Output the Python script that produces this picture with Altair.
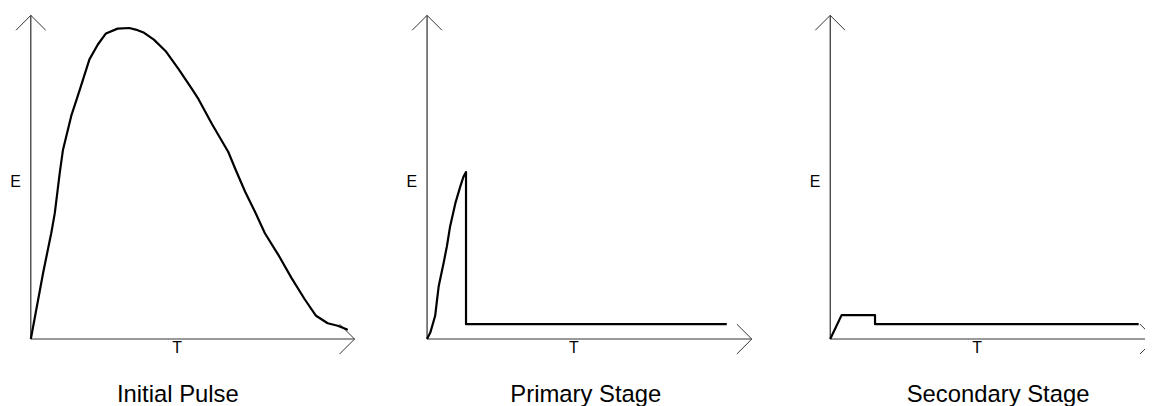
import altair as alt
import pandas as pd

# ---- data (T in % of axis length, E in % of axis height) ----
panel_titles = ["Initial Pulse", "Primary Stage", "Secondary Stage"]
title_centers = [45.4, 48.9, 51.7]   # where each caption sits along T

pulse_t = [0.0, 3.8, 6.3, 7.4, 8.9, 9.9, 11.5, 12.5, 14.0, 15.5, 18.1, 20.7, 23.2,
           26.8, 30.4, 32.4, 35.0, 38.0, 41.6, 45.7, 49.8, 51.8, 55.9, 61.0, 63.1,
           66.2, 69.2, 72.3, 76.4, 80.5, 84.6, 88.1, 91.7, 94.8, 97.9]
pulse_e = [0.0, 20.5, 32.7, 38.9, 51.1, 58.3, 64.9, 69.0, 73.6, 78.2, 86.4, 91.0, 94.4,
           95.9, 96.1, 95.6, 94.6, 92.5, 89.0, 83.3, 77.2, 74.1, 66.5, 57.8, 52.7,
           45.5, 39.4, 32.7, 26.1, 18.9, 12.3, 7.2, 4.9, 4.1, 2.9]

primary_t = [0.0, 1.0, 2.5, 3.1, 3.6, 5.1, 6.1, 7.1, 8.7, 10.2, 11.2, 12.0, 12.0, 92.3]
primary_e = [0.0, 2.0, 7.2, 12.3, 16.4, 23.5, 28.6, 34.8, 41.9, 47.0, 50.1, 51.6, 4.6, 4.6]

secondary_t = [0.0, 1.7, 3.5, 13.8, 13.8, 95.0]
secondary_e = [0.0, 3.6, 7.4, 7.4, 4.6, 4.6]

axis_max = 100
e_label_level = 48.5
t_label_pos = 45.2

# ---- layout (pixel ranges of each panel inside the 1145 x 398 drawing) ----
W, H = 1145, 398
x_ranges = [[23, 349], [422, 749], [828, 1155]]
y_range = [332, 6]

FONT = "Arial"
UP_ARROW = "M-1,1L0,0L1,1"
RIGHT_ARROW = "M-1,-1L0,0L-1,1"


def panel(t, e, title, title_t, x_range):
    xs = alt.Scale(domain=[0, axis_max], range=x_range, nice=False, zero=False)
    ys = alt.Scale(domain=[0, axis_max], range=y_range, nice=False, zero=False)
    X = lambda f: alt.X(f, scale=xs, axis=None)
    Y = lambda f: alt.Y(f, scale=ys, axis=None)

    df = pd.DataFrame({"T": t, "E": e, "order": list(range(len(t)))})

    yaxis = alt.Chart(pd.DataFrame({"T": [0], "E": [0], "E2": [axis_max]})).mark_rule(
        color="black", strokeWidth=1).encode(x=X("T:Q"), y=Y("E:Q"), y2="E2:Q")
    xaxis = alt.Chart(pd.DataFrame({"T": [0], "T2": [axis_max], "E": [0]})).mark_rule(
        color="#777777", strokeWidth=1.5).encode(x=X("T:Q"), x2="T2:Q", y=Y("E:Q"))
    up = alt.Chart(pd.DataFrame({"T": [0], "E": [axis_max]})).mark_point(
        shape=UP_ARROW, size=900, filled=False, color="#333333",
        strokeWidth=1, opacity=1).encode(x=X("T:Q"), y=Y("E:Q"))
    right = alt.Chart(pd.DataFrame({"T": [axis_max], "E": [0]})).mark_point(
        shape=RIGHT_ARROW, size=900, filled=False, color="#333333",
        strokeWidth=1, opacity=1).encode(x=X("T:Q"), y=Y("E:Q"))
    curve = alt.Chart(df).mark_line(color="black", strokeWidth=2.2,
                                    strokeJoin="round").encode(
        x=X("T:Q"), y=Y("E:Q"), order=alt.Order("order:Q"))
    e_lab = alt.Chart(pd.DataFrame({"T": [0], "E": [e_label_level], "lab": ["E"]})).mark_text(
        font=FONT, fontSize=16, color="black", align="right", baseline="middle",
        dx=-10).encode(x=X("T:Q"), y=Y("E:Q"), text="lab:N")
    t_lab = alt.Chart(pd.DataFrame({"T": [t_label_pos], "E": [0], "lab": ["T"]})).mark_text(
        font=FONT, fontSize=16, color="black", align="center", baseline="top",
        dy=1).encode(x=X("T:Q"), y=Y("E:Q"), text="lab:N")
    cap = alt.Chart(pd.DataFrame({"T": [title_t], "E": [0], "lab": [title]})).mark_text(
        font=FONT, fontSize=24, color="black", align="center", baseline="alphabetic",
        dy=63).encode(x=X("T:Q"), y=Y("E:Q"), text="lab:N")
    return alt.layer(yaxis, xaxis, up, right, curve, e_lab, t_lab, cap)


panels = [
    panel(pulse_t, pulse_e, panel_titles[0], title_centers[0], x_ranges[0]),
    panel(primary_t, primary_e, panel_titles[1], title_centers[1], x_ranges[1]),
    panel(secondary_t, secondary_e, panel_titles[2], title_centers[2], x_ranges[2]),
]

chart = alt.layer(*panels).resolve_scale(x="independent").properties(
    width=W, height=H,
    background="white",
    autosize=alt.AutoSizeParams(type="none"),
    padding={"left": 0, "top": 0, "right": 0, "bottom": 0},
).configure_view(stroke="transparent", strokeWidth=0)

chart.save("out.html", embed_options={"renderer": "svg", "actions": False})
